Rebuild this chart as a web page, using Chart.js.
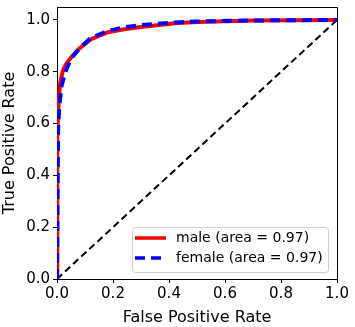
<!DOCTYPE html>
<html>
<head>
<meta charset="utf-8">
<script src="https://cdn.jsdelivr.net/npm/chart.js@4/dist/chart.umd.min.js"></script>
<style>
  html, body { margin: 0; padding: 0; background: #fff; }
  #wrap { width: 355px; height: 327px; }
</style>
</head>
<body>
<div id="wrap"><canvas id="roc" width="355" height="327"></canvas></div>
<script>
// ROC points
const maleFpr = [0, 0, 0.002, 0.005, 0.01, 0.02, 0.03, 0.05, 0.08, 0.12, 0.18, 0.24, 0.3, 0.42, 0.5, 0.7, 1.0];
const maleTpr = [0, 0.3, 0.55, 0.66, 0.75, 0.8, 0.825, 0.855, 0.89, 0.925, 0.952, 0.964, 0.973, 0.987, 0.992, 0.998, 1.0];

const femaleFpr = [0, 0.002, 0.004, 0.008, 0.015, 0.03, 0.05, 0.08, 0.12, 0.18, 0.24, 0.3, 0.42, 0.5, 0.7, 1.0];
const femaleTpr = [0, 0.3, 0.58, 0.66, 0.74, 0.8, 0.85, 0.89, 0.93, 0.957, 0.972, 0.98, 0.99, 0.994, 0.998, 1.0];

const chanceX = [0, 1];
const chanceY = [0, 1];

const xTicks = [0, 0.2, 0.4, 0.6, 0.8, 1.0];
const yTicks = [0, 0.2, 0.4, 0.6, 0.8, 1.0];

const legendLabels = ['male (area = 0.97)', 'female (area = 0.97)'];

const FONT = 'DejaVu Sans';

function pts(xs, ys) {
    return xs.map((x, i) => ({ x: x, y: ys[i] }));
}

// frame on top/right + matplotlib style legend box
const framePlugin = {
    id: 'frame',
    afterDraw(chart) {
        const { ctx, chartArea: a } = chart;
        ctx.save();
        ctx.strokeStyle = '#000';
        ctx.lineWidth = 1;
        ctx.beginPath();
        ctx.moveTo(a.left, a.top + 0.5);
        ctx.lineTo(a.right + 0.5, a.top + 0.5);
        ctx.lineTo(a.right + 0.5, a.bottom);
        ctx.stroke();

        // legend
        const bx = 132.5, by = 227.5, bw = 196, bh = 45;
        ctx.fillStyle = 'rgba(255,255,255,0.85)';
        ctx.strokeStyle = '#d0d0d0';
        ctx.beginPath();
        ctx.roundRect(bx, by, bw, bh, 3);
        ctx.fill();
        ctx.stroke();

        ctx.lineWidth = 3.5;
        ctx.strokeStyle = '#ff0000';
        ctx.setLineDash([]);
        ctx.beginPath();
        ctx.moveTo(135, 238);
        ctx.lineTo(166, 238);
        ctx.stroke();

        ctx.strokeStyle = '#0000ff';
        ctx.setLineDash([10, 6]);
        ctx.beginPath();
        ctx.moveTo(135, 258);
        ctx.lineTo(166, 258);
        ctx.stroke();
        ctx.setLineDash([]);

        ctx.fillStyle = '#000';
        ctx.font = '14px "' + FONT + '"';
        ctx.textBaseline = 'middle';
        ctx.textAlign = 'left';
        ctx.fillText(legendLabels[0], 176, 238);
        ctx.fillText(legendLabels[1], 176, 258);
        ctx.restore();
    }
};

new Chart(document.getElementById('roc'), {
    type: 'scatter',
    data: {
        datasets: [
            {
                label: 'chance',
                data: pts(chanceX, chanceY),
                showLine: true,
                borderColor: '#000',
                borderWidth: 2,
                borderDash: [7, 4],
                pointRadius: 0,
                order: 3
            },
            {
                label: legendLabels[0],
                data: pts(maleFpr, maleTpr),
                showLine: true,
                borderColor: '#ff0000',
                borderWidth: 4,
                pointRadius: 0,
                tension: 0,
                order: 2
            },
            {
                label: legendLabels[1],
                data: pts(femaleFpr, femaleTpr),
                showLine: true,
                borderColor: '#0000ff',
                borderWidth: 4,
                borderDash: [10, 6],
                pointRadius: 0,
                tension: 0,
                order: 1
            }
        ]
    },
    options: {
        responsive: false,
        animation: false,
        layout: { padding: { top: 7, right: 18, left: 0, bottom: 0 } },
        plugins: {
            legend: { display: false },
            tooltip: { enabled: false }
        },
        scales: {
            x: {
                type: 'linear',
                min: 0,
                max: 1,
                afterBuildTicks: s => { s.ticks = xTicks.map(v => ({ value: v })); },
                afterFit: s => { s.height = 48; },
                grid: { display: true, drawOnChartArea: false, drawTicks: true, tickLength: 4, color: '#000' },
                border: { display: true, color: '#000', width: 1 },
                ticks: {
                    color: '#000',
                    font: { family: FONT, size: 15 },
                    padding: 2,
                    maxRotation: 0,
                    callback: v => v.toFixed(1)
                },
                title: {
                    display: true,
                    text: 'False Positive Rate',
                    color: '#000',
                    font: { family: FONT, size: 16 },
                    padding: { top: 1, bottom: 0 }
                }
            },
            y: {
                type: 'linear',
                min: 0,
                max: 1.05,
                afterBuildTicks: s => { s.ticks = yTicks.map(v => ({ value: v })); },
                afterFit: s => { s.width = 57; s.paddingTop = 0; s.paddingBottom = 0; },
                grid: { display: true, drawOnChartArea: false, drawTicks: true, tickLength: 4, color: '#000' },
                border: { display: true, color: '#000', width: 1 },
                ticks: {
                    color: '#000',
                    font: { family: FONT, size: 15 },
                    padding: 3,
                    callback: v => v.toFixed(1)
                },
                title: {
                    display: true,
                    text: 'True Positive Rate',
                    color: '#000',
                    font: { family: FONT, size: 16 },
                    padding: { top: 0, bottom: 0 }
                }
            }
        }
    },
    plugins: [framePlugin]
});
</script>
</body>
</html>
